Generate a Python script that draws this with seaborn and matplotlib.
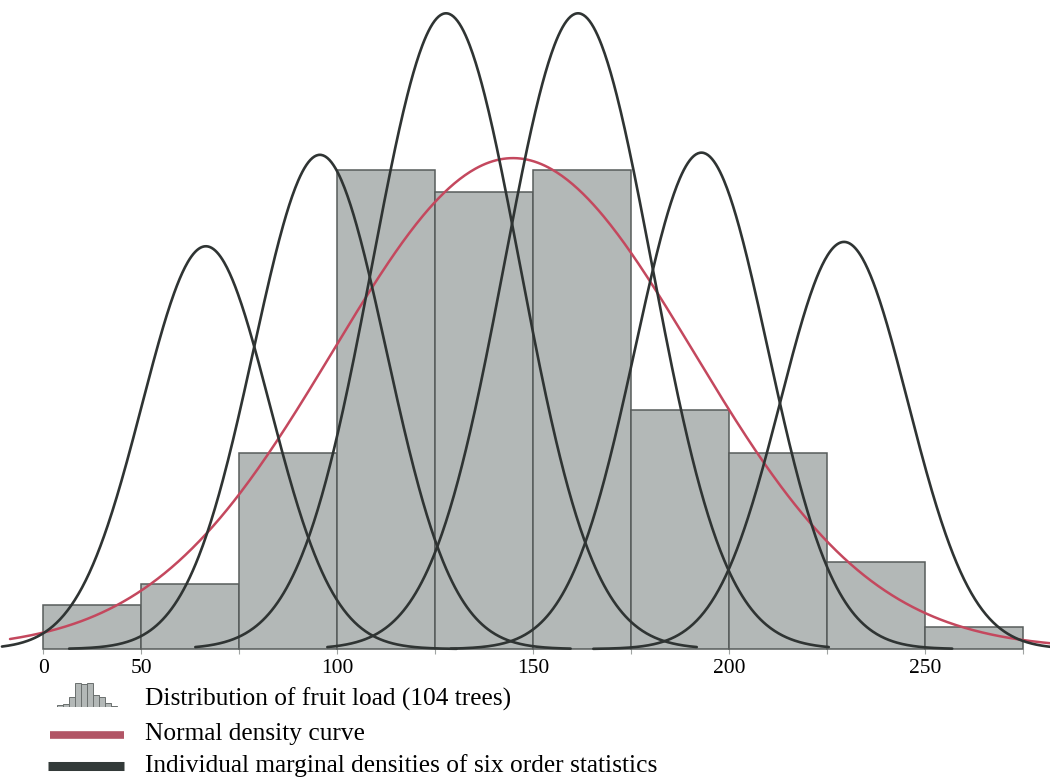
import numpy as np
import pandas as pd
import matplotlib
matplotlib.use("Agg")
import matplotlib.pyplot as plt
import seaborn as sns
from matplotlib.lines import Line2D

# ---------------- data ----------------
bin_edges = [25, 50, 75, 100, 125, 150, 175, 200, 225, 250, 275]
tree_counts = [2, 3, 9, 22, 21, 22, 11, 9, 4, 1]
n_trees = 104
tick_positions = [25, 50, 75, 100, 125, 150, 175, 200, 225, 250, 275]
tick_labels = ["0", "50", "", "100", "", "150", "", "200", "", "250", ""]
normal_mean = 144.9
normal_sd = 46.0
order_stat_centers = [66.5, 95.6, 127.8, 161.5, 193.0, 229.4]
order_stat_sds = [16.3, 16.9, 18.8, 18.8, 16.9, 16.3]
order_stat_peaks = [18.5, 22.7, 29.2, 29.2, 22.8, 18.7]
legend_labels = [
    "Distribution of fruit load (104 trees)",
    "Normal density curve",
    "Individual marginal densities of six order statistics",
]

# ---------------- style ----------------
sns.set_theme(style="white")
plt.rcParams["font.family"] = ["Liberation Serif", "DejaVu Serif"]

W, H = 1050, 781
fig = plt.figure(figsize=(W / 100, H / 100), dpi=100)

base_px = 649          # baseline pixel row
px_per_count = 21.77
x0_px, x_scale = 43.3, 979.4 / 250.0   # pixel of x=25, pixels per unit

ax = fig.add_axes([0, 1 - base_px / H, 1, base_px / H])
ax.set_xlim(25 - x0_px / x_scale, 25 + (W - x0_px) / x_scale)
ax.set_ylim(0, base_px / px_per_count)

bar_color = "#b3b8b7"
edge_color = "#575c5b"
red = "#c4485e"
dark = "#2f3433"

centers = [(a + b) / 2 for a, b in zip(bin_edges[:-1], bin_edges[1:])]
sns.histplot(x=centers, weights=tree_counts, bins=bin_edges, stat="count",
             color=bar_color, edgecolor=edge_color, linewidth=1.1, alpha=1.0,
             ax=ax, zorder=1)
for p in ax.patches:
    p.set_clip_on(False)

# normal density curve scaled to counts per bin
bw = bin_edges[1] - bin_edges[0]
xs = np.linspace(16.5, ax.get_xlim()[1], 600)
ys = n_trees * bw * np.exp(-0.5 * ((xs - normal_mean) / normal_sd) ** 2) / (normal_sd * np.sqrt(2 * np.pi))
sns.lineplot(x=xs, y=ys, ax=ax, color=red, linewidth=1.8, zorder=3, clip_on=False)

# order statistic densities
xlo, xhi = ax.get_xlim()
for c, s, pk in zip(order_stat_centers, order_stat_sds, order_stat_peaks):
    xx = np.linspace(max(c - 64, xlo + 0.5), min(c + 64, xhi), 500)
    yy = pk * np.exp(-0.5 * ((xx - c) / s) ** 2)
    sns.lineplot(x=xx, y=yy, ax=ax, color=dark, linewidth=1.9, zorder=4, clip_on=False)

for sp in ax.spines.values():
    sp.set_visible(False)
ax.set_yticks([])
ax.set_xticks(tick_positions)
ax.set_xticklabels(tick_labels, fontsize=15.5, color="black")
ax.tick_params(axis="x", bottom=True, length=3.5, width=0.8, color="#a0a4a3", pad=4)
ax.set_xlabel("")
ax.set_ylabel("")
ax.grid(False)

# ---------------- legend ----------------
icon = fig.add_axes([56 / W, 1 - 707 / H, 62 / W, 24 / H])
sns.histplot(x=centers, weights=tree_counts, bins=bin_edges, stat="count",
             color=bar_color, edgecolor="#6a6f6e", linewidth=0.7, alpha=1.0, ax=icon)
icon.set_xlim(bin_edges[0] - 5, bin_edges[-1] + 5)
icon.set_ylim(0, max(tree_counts))
icon.axis("off")

fig.add_artist(Line2D([50 / W, 124 / W], [1 - 735 / H] * 2, transform=fig.transFigure,
                      color="#b25566", linewidth=5.5, solid_capstyle="butt"))
fig.add_artist(Line2D([48 / W, 124 / W], [1 - 766 / H] * 2, transform=fig.transFigure,
                      color="#333a39", linewidth=6.5, solid_capstyle="butt"))

for label, ypx in zip(legend_labels, [699, 734, 766]):
    fig.text(145 / W, 1 - ypx / H, label, fontsize=18.3, va="center", ha="left", color="black")

fig.savefig("out.png", dpi=100)
